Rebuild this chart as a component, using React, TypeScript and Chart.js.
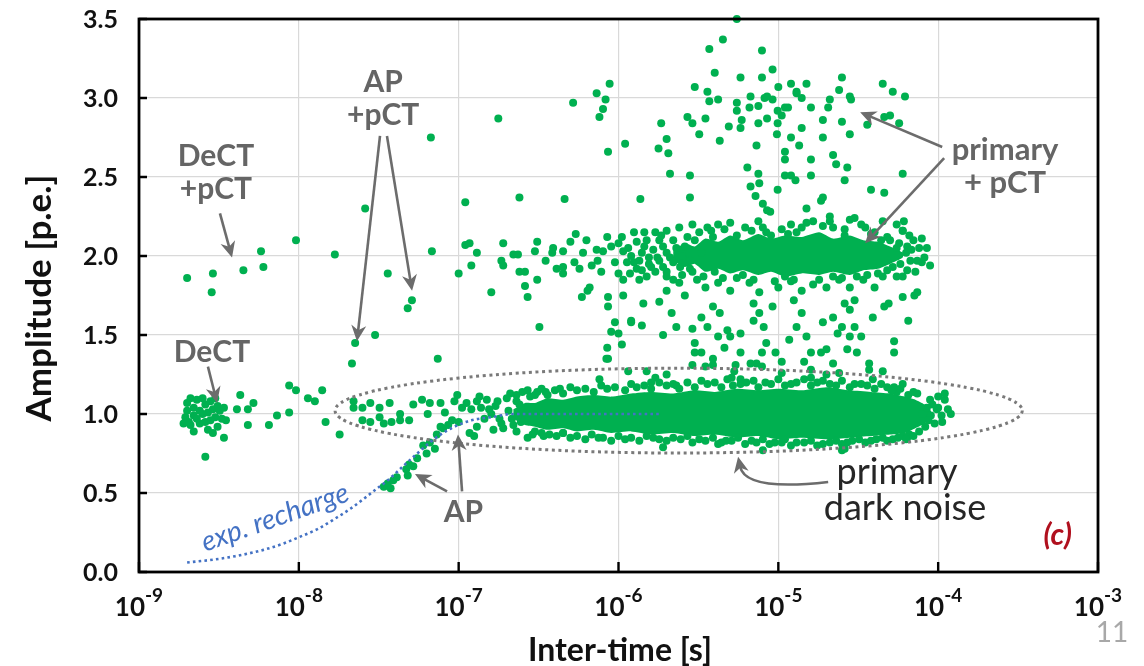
import React, { useEffect, useRef } from "react";
import { Chart, registerables } from "chart.js";

Chart.register(...registerables);

type P = [number, number];

// ---------- axes ----------
const X_TICKS = [1e-9, 1e-8, 1e-7, 1e-6, 1e-5, 1e-4, 1e-3];
const X_TICK_EXPONENTS = ["-9", "-8", "-7", "-6", "-5", "-4", "-3"];
const Y_TICKS = [0, 0.5, 1, 1.5, 2, 2.5, 3, 3.5];
const Y_TICK_LABELS = ["0.0", "0.5", "1.0", "1.5", "2.0", "2.5", "3.0", "3.5"];
const X_TITLE = "Inter-time [s]";
const Y_TITLE = "Amplitude [p.e.]";

// ---------- data (inter-time [s], amplitude [p.e.]) ----------
const dectCluster: P[] = [
  [2.0e-9, 1.07], [2.1e-9, 1.1], [2.2e-9, 1.04], [2.3e-9, 1.09], [2.5e-9, 1.1], [1.95e-9, 0.98],
  [2.05e-9, 0.95], [2.2e-9, 0.99], [2.4e-9, 1.02], [2.6e-9, 1.06], [2.8e-9, 1.08], [2.9e-9, 1.03],
  [3.1e-9, 1.05], [3.2e-9, 1.02], [3.0e-9, 0.98], [2.8e-9, 0.96], [2.6e-9, 0.95], [2.4e-9, 0.94],
  [2.1e-9, 0.93], [1.9e-9, 0.94], [2.2e-9, 0.89], [2.7e-9, 0.9], [2.9e-9, 0.88], [3.3e-9, 0.97],
  [3.5e-9, 0.96], [3.1e-9, 0.92], [2.5e-9, 1.0], [2.3e-9, 0.97], [2.0e-9, 1.02], [2.7e-9, 1.01],
  [3.4e-9, 1.04], [3.0e-9, 1.1], [2.6e-9, 0.73], [3.4e-9, 0.85],
];

const earlySingles: P[] = [
  [4.3e-9, 1.12], [4.1e-9, 1.03], [4.8e-9, 1.03], [5.2e-9, 1.07], [4.8e-9, 0.93], [6.5e-9, 0.93],
  [7.3e-9, 0.99], [8.7e-9, 1.01], [8.7e-9, 1.18], [9.6e-9, 1.15], [1.14e-8, 1.1], [1.26e-8, 1.08],
  [1.4e-8, 1.15], [1.47e-8, 0.95], [1.8e-8, 0.87], [2.2e-8, 1.04], [2.2e-8, 1.08], [2.5e-8, 1.04],
  [2.8e-8, 1.07], [3.2e-8, 1.04], [3.7e-8, 1.07], [2.5e-8, 0.96], [2.8e-8, 0.95], [3.2e-8, 0.98],
  [3.4e-8, 0.94], [3.8e-8, 0.95], [4.3e-8, 0.96], [4.3e-8, 1.0], [4.9e-8, 0.96], [5.2e-8, 1.06],
  [5.9e-8, 1.09], [6.6e-8, 1.07], [6.4e-8, 1.0], [7.7e-8, 1.07], [8.2e-8, 1.01], [9.8e-8, 1.12],
  [9.4e-8, 1.08], [9.1e-8, 0.96], [1.05e-7, 1.04], [1.0e-7, 0.95], [1.12e-7, 1.07], [1.2e-7, 1.03],
  [1.3e-7, 1.08], [1.38e-7, 1.04], [1.5e-7, 1.09], [1.17e-7, 0.88], [1.25e-7, 0.86], [1.65e-7, 0.9],
  [1.9e-7, 0.91], [2.7e-7, 0.85], [1.3e-7, 0.92], [2.1e-7, 1.13], [2.5e-7, 1.14], [3.1e-7, 1.14],
  [4.3e-7, 1.16], [4.5e-7, 0.88], [1.35e-7, 1.11], [1.7e-7, 1.05], [1.8e-7, 0.97], [2.0e-7, 1.1],
  [2.2e-7, 0.93], [2.4e-7, 1.06], [2.6e-7, 0.96], [2.8e-7, 1.11], [3.3e-7, 0.88], [3.6e-7, 1.12],
  [1.6e-7, 1.0], [1.75e-7, 1.08], [1.85e-7, 0.94], [2.05e-7, 1.02], [2.15e-7, 0.97], [2.3e-7, 1.08],
  [2.45e-7, 0.95], [1.55e-7, 1.03], [1.45e-7, 0.97],
];

const afterpulseBranch: P[] = [
  [3.4e-8, 0.54], [3.6e-8, 0.56], [3.75e-8, 0.53], [4.1e-8, 0.6], [4.7e-8, 0.65], [4.9e-8, 0.68],
  [5.2e-8, 0.67], [4.8e-8, 0.61], [6.0e-8, 0.8], [6.6e-8, 0.82], [7.1e-8, 0.78], [7.3e-8, 0.87],
  [8.0e-8, 0.91], [8.6e-8, 0.93], [7.7e-8, 0.92], [3.9e-8, 0.58], [5.5e-8, 0.72], [6.3e-8, 0.75],
];

const crossTalkLow: P[] = [
  [2.0e-9, 1.86], [2.9e-9, 1.89], [2.85e-9, 1.77], [4.5e-9, 1.91], [5.8e-9, 2.03], [6.0e-9, 1.93],
  [9.6e-9, 2.1], [1.68e-8, 2.01], [2.6e-8, 2.3], [3.6e-8, 1.89], [6.8e-8, 2.03], [1.0e-7, 1.89],
  [1.1e-7, 2.34], [1.1e-7, 2.07], [1.17e-7, 2.08], [1.3e-7, 2.02], [1.9e-7, 2.08], [1.2e-7, 1.94],
  [1.85e-7, 1.97], [1.9e-7, 1.94], [2.2e-7, 2.01], [2.35e-7, 2.01], [2.4e-7, 1.9], [3.1e-7, 2.09],
  [3.1e-7, 1.85], [2.15e-8, 1.32], [2.25e-8, 1.45], [3.0e-8, 1.5], [5.1e-8, 1.72], [4.8e-8, 1.67],
  [7.4e-8, 1.35], [1.6e-7, 1.77], [2.6e-7, 1.81], [2.7e-7, 1.74], [3.2e-7, 1.55],
];

const highAmplitude: P[] = [
  [6.7e-8, 2.75], [1.77e-7, 2.87], [2.4e-7, 2.37], [5.2e-7, 2.97], [7.3e-7, 3.03], [8.3e-7, 2.99],
  [8.8e-7, 3.09], [8.0e-7, 2.93], [7.6e-7, 2.88], [8.6e-7, 2.66], [1.1e-6, 2.71], [4.6e-7, 2.36],
  [1.37e-6, 2.36], [2.8e-6, 2.37], [2.8e-6, 2.51], [2.1e-6, 2.52], [1.78e-6, 2.68], [2.0e-6, 2.74],
  [2.05e-6, 2.65], [1.85e-6, 2.84], [2.7e-6, 2.88], [2.9e-6, 2.84], [3.2e-6, 2.77], [3.5e-6, 2.87],
  [3.0e-6, 3.07], [3.6e-6, 3.04], [3.7e-6, 2.98], [4.2e-6, 2.99], [4.0e-6, 3.16], [3.7e-6, 3.31],
  [4.5e-6, 3.37], [5.5e-6, 3.5], [7.9e-6, 3.3], [5.8e-6, 3.13], [7.9e-6, 3.13], [9.2e-6, 3.18],
  [1.0e-5, 3.07], [6.7e-6, 3.01], [5.5e-6, 2.97], [5.5e-6, 2.92], [6.6e-6, 2.94], [7.5e-6, 2.95],
  [8.5e-6, 3.01], [9.2e-6, 2.99], [9.9e-6, 2.92], [1.1e-5, 2.94], [1.2e-5, 3.09], [1.3e-5, 3.03],
  [4.9e-6, 2.82], [5.9e-6, 2.86], [5.8e-6, 2.81], [7.5e-6, 2.84], [8.5e-6, 2.87], [9.9e-6, 2.84],
  [9.8e-6, 2.77], [4.3e-6, 2.73], [7.3e-6, 2.7], [1.1e-5, 2.66], [1.1e-5, 2.61], [1.2e-5, 2.75],
  [6.4e-6, 2.56], [7.5e-6, 2.52], [7.6e-6, 2.46], [6.7e-6, 2.44], [9.9e-6, 2.42], [1.1e-5, 2.51],
  [1.28e-5, 2.48], [7.2e-6, 2.38], [8.0e-6, 2.33], [8.5e-6, 2.29], [8.9e-6, 2.28], [1.3e-5, 3.04],
  [1.5e-5, 3.09], [2.5e-5, 3.13], [2.4e-5, 3.05], [2.8e-5, 3.01], [2.85e-5, 2.99], [4.5e-5, 3.09],
  [5.2e-5, 3.04], [6.2e-5, 3.01], [2.1e-5, 2.99], [2.05e-5, 2.94], [1.6e-5, 2.94], [1.4e-5, 3.0],
  [1.15e-5, 2.94], [1.05e-5, 2.89], [8.2e-6, 3.0], [1.4e-5, 2.81], [1.9e-5, 2.86], [2.5e-5, 2.85],
  [3.6e-5, 2.83], [4.6e-5, 2.88], [5.0e-5, 2.89], [5.7e-5, 2.84], [1.35e-5, 2.7], [1.9e-5, 2.75],
  [2.8e-5, 2.77], [1.6e-5, 2.61], [2.2e-5, 2.64], [2.3e-5, 2.58], [2.7e-5, 2.56], [1.2e-5, 2.51],
  [1.6e-5, 2.51], [2.6e-5, 2.48], [6.0e-5, 2.52], [3.8e-5, 2.42], [4.6e-5, 2.4], [1.9e-5, 2.37],
  [1.85e-5, 2.35], [1.5e-5, 2.3], [2.1e-5, 2.25], [2.8e-5, 2.23], [6.1e-5, 2.22],
];

const doubleBand: P[] = [
  [2.4e-6, 2.18], [3.6e-6, 2.18], [5.0e-6, 2.21], [6.8e-6, 2.16], [8.4e-6, 2.15], [1.15e-5, 2.14],
  [1.5e-5, 2.21], [1.65e-5, 2.22], [2.2e-5, 2.18], [3.0e-5, 2.24], [3.5e-5, 2.18], [4.0e-5, 2.15],
  [4.8e-5, 2.12], [6.0e-5, 2.16], [6.4e-5, 2.06], [7.0e-5, 2.1], [7.4e-5, 1.97], [6.4e-5, 1.91],
  [5.5e-5, 1.87], [7.9e-5, 2.11], [8.5e-5, 2.05], [8.9e-5, 1.94], [7.9e-5, 1.96], [6.7e-5, 1.97],
  [6.0e-5, 1.87], [7.1e-5, 1.75], [6.0e-5, 2.16],
  [2.0e-6, 1.87], [2.4e-6, 1.83], [3.1e-6, 1.85], [3.5e-6, 1.8], [4.2e-6, 1.83], [5.0e-6, 1.78],
  [6.6e-6, 1.83], [7.6e-6, 1.77], [1.0e-5, 1.8], [1.2e-5, 1.84], [1.4e-5, 1.78], [1.65e-5, 1.82],
  [2.0e-5, 1.8], [2.4e-5, 1.85], [2.8e-5, 1.8], [3.4e-5, 1.85], [4.0e-5, 1.8], [4.5e-5, 1.87],
  [5.0e-7, 2.09], [6.3e-7, 2.1], [3.9e-7, 2.05], [3.85e-7, 2.02], [4.5e-7, 2.03], [4.5e-7, 1.93],
  [4.1e-7, 1.92], [4.5e-7, 1.89], [2.6e-7, 1.9], [5.3e-7, 1.96], [5.7e-7, 1.92], [6.8e-7, 1.94],
  [7.3e-7, 2.04], [8.0e-7, 2.03], [7.4e-7, 1.97], [9.0e-7, 2.06], [1.0e-6, 2.08], [1.07e-6, 2.03],
  [1.25e-6, 2.15], [1.45e-6, 2.15], [1.7e-6, 2.15], [2.0e-6, 2.16], [1.13e-6, 1.96], [1.25e-6, 1.96],
  [1.0e-6, 1.89], [1.18e-6, 1.89], [1.4e-6, 1.91], [1.5e-6, 1.87], [1.6e-6, 1.93], [1.07e-6, 1.85],
  [1.35e-6, 1.85], [1.9e-6, 2.06], [2.1e-6, 1.99], [2.43e-6, 1.93], [2.6e-6, 2.06], [2.8e-6, 1.97],
  [3.0e-6, 2.1], [1.9e-6, 1.93], [1.75e-6, 1.99], [1.55e-6, 1.99], [1.45e-6, 2.06], [1.35e-6, 1.97],
  [1.8e-6, 2.1], [3.3e-6, 2.02], [3.9e-6, 2.12], [5.5e-6, 2.13], [9.0e-6, 2.13], [1.3e-5, 2.15],
  [2.6e-5, 2.13], [4.4e-5, 2.1], [5.5e-5, 2.05], [5.8e-5, 1.95], [4.8e-5, 1.91], [3.6e-5, 1.88],
  [2.2e-5, 1.87], [1.1e-5, 1.87], [6.0e-6, 1.88], [4.0e-6, 1.9], [2.8e-6, 1.92],
  [1.05e-6, 2.12], [1.15e-6, 2.05], [1.2e-6, 2.0], [1.3e-6, 2.09], [1.3e-6, 1.92], [1.4e-6, 2.02],
  [1.5e-6, 2.1], [1.55e-6, 1.95], [1.65e-6, 2.04], [1.7e-6, 1.9], [1.8e-6, 1.97], [1.85e-6, 2.13],
  [2.0e-6, 2.02], [2.0e-6, 1.9], [2.2e-6, 2.1], [2.2e-6, 1.96], [2.3e-6, 2.05], [2.5e-6, 2.0],
  [2.5e-6, 1.88], [2.7e-6, 2.12], [2.9e-6, 1.9], [3.2e-6, 2.15], [3.4e-6, 1.87], [3.8e-6, 2.16],
  [4.5e-6, 1.86], [4.6e-6, 2.17], [5.5e-6, 1.86], [6.2e-6, 2.18], [7.0e-6, 1.85], [8.0e-6, 2.18],
  [9.5e-6, 1.84], [1.05e-5, 2.17], [1.25e-5, 1.85], [1.4e-5, 2.18], [1.8e-5, 1.85], [1.9e-5, 2.19],
  [2.5e-5, 1.86], [2.6e-5, 2.17], [3.1e-5, 1.87], [3.8e-5, 2.14], [4.2e-5, 1.89], [5.0e-5, 2.1],
  [5.2e-5, 1.93], [5.7e-5, 2.08], [6.3e-5, 2.02], [6.8e-5, 2.04], [7.6e-5, 2.05], [8.2e-5, 1.99],
  [7.2e-5, 1.9], [6.6e-5, 2.13], [5.5e-5, 2.2], [4.5e-5, 2.22], [3.3e-5, 2.2], [2.1e-5, 2.22],
  [1.2e-5, 2.2], [7.5e-6, 2.22], [4.2e-6, 2.2], [2.9e-6, 2.2], [8.5e-7, 2.12], [9.5e-7, 1.96],
  [7.8e-7, 1.9], [6.0e-7, 2.02], [5.4e-7, 2.14], [3.5e-7, 1.97], [3.0e-7, 2.03],
];

const betweenBands: P[] = [
  [6.6e-7, 1.8], [6.4e-7, 1.78], [5.9e-7, 1.74], [8.6e-7, 1.74], [8.6e-7, 1.68], [1.07e-6, 1.75],
  [1.43e-6, 1.7], [1.2e-6, 1.58], [1.4e-6, 1.56], [1.0e-6, 1.51], [9.5e-7, 1.58], [8.5e-7, 1.42],
  [8.6e-7, 1.35], [1.8e-6, 1.71], [2.0e-6, 1.78], [2.2e-6, 1.85], [2.15e-6, 1.64], [2.6e-6, 1.75],
  [1.9e-6, 1.5], [2.3e-6, 1.55], [2.9e-6, 1.54], [3.3e-6, 1.61], [3.6e-6, 1.55], [3.9e-6, 1.68],
  [4.3e-6, 1.64], [4.2e-6, 1.49], [4.8e-6, 1.53], [5.0e-6, 1.49], [5.8e-6, 1.51], [4.6e-6, 1.42],
  [5.8e-6, 1.39], [3.0e-6, 1.45], [3.0e-6, 1.39], [3.5e-6, 1.3], [3.3e-6, 1.39], [3.9e-6, 1.35],
  [5.1e-6, 1.23], [7.0e-6, 1.59], [8.1e-6, 1.55], [7.6e-6, 1.64], [7.0e-6, 1.7], [9.2e-6, 1.68],
  [8.4e-6, 1.45], [9.6e-6, 1.39], [1.05e-5, 1.33], [7.9e-6, 1.39], [1.17e-5, 1.47], [1.3e-5, 1.55],
  [1.4e-5, 1.64], [1.25e-5, 1.72], [1.5e-5, 1.49], [1.6e-5, 1.39], [1.45e-5, 1.33], [1.85e-5, 1.39],
  [2.0e-5, 1.41], [2.2e-5, 1.32], [1.9e-5, 1.58], [2.2e-5, 1.61], [2.35e-5, 1.51], [2.5e-5, 1.55],
  [2.8e-5, 1.49], [3.0e-5, 1.55], [3.3e-5, 1.49], [2.7e-5, 1.41], [3.1e-5, 1.39], [3.7e-5, 1.32],
  [3.9e-5, 1.61], [4.6e-5, 1.68], [4.9e-5, 1.7], [3.0e-5, 1.72], [6.0e-5, 1.74], [7.4e-5, 1.77],
  [5.3e-5, 1.39], [2.8e-5, 1.66], [2.6e-5, 1.7], [2.4e-5, 1.26], [1.6e-5, 1.23], [1.05e-5, 1.26],
  [7.3e-6, 1.32], [4.5e-5, 1.27], [5.3e-5, 1.46], [6.5e-5, 1.59], [7.6e-7, 1.22], [8.4e-7, 1.35],
  [1.05e-6, 1.44], [9.0e-7, 1.52], [1.2e-6, 1.59], [1.5e-6, 1.27], [1.7e-6, 1.23], [1.6e-6, 1.2],
  [2.9e-6, 1.31], [3.9e-6, 1.31], [5.3e-6, 1.27], [2.3e-6, 1.18], [6.7e-6, 1.32], [1.15e-6, 1.27],
  [2.0e-6, 1.25], [5.4e-6, 1.31], [7.9e-6, 1.3], [1.6e-5, 1.28], [5.8e-6, 1.22],
];

const singleBandEdges: P[] = [
  [3.0e-7, 1.12], [3.5e-7, 1.14], [4.5e-7, 1.13], [5.5e-7, 1.15], [7.0e-7, 1.14], [8.5e-7, 1.16],
  [1.1e-6, 1.15], [1.3e-6, 1.17], [1.6e-6, 1.16], [2.0e-6, 1.18], [2.4e-6, 1.16], [3.0e-6, 1.17],
  [3.6e-6, 1.19], [4.4e-6, 1.17], [5.2e-6, 1.18], [6.3e-6, 1.2], [7.5e-6, 1.17], [9.0e-6, 1.19],
  [1.1e-5, 1.18], [1.3e-5, 1.2], [1.6e-5, 1.18], [1.9e-5, 1.21], [2.3e-5, 1.18], [2.8e-5, 1.17],
  [3.3e-5, 1.19], [4.0e-5, 1.16], [4.8e-5, 1.17], [5.5e-5, 1.14], [6.5e-5, 1.12], [7.0e-5, 1.14],
  [3.0e-7, 0.89], [3.7e-7, 0.87], [4.5e-7, 0.88], [5.5e-7, 0.86], [6.8e-7, 0.87], [8.0e-7, 0.85],
  [1.0e-6, 0.86], [1.2e-6, 0.85], [1.5e-6, 0.86], [1.8e-6, 0.84], [2.2e-6, 0.85], [2.7e-6, 0.86],
  [3.2e-6, 0.84], [3.9e-6, 0.85], [4.7e-6, 0.83], [5.6e-6, 0.85], [6.8e-6, 0.83], [8.0e-6, 0.84],
  [9.5e-6, 0.82], [1.1e-5, 0.84], [1.3e-5, 0.82], [1.6e-5, 0.83], [1.9e-5, 0.81], [2.3e-5, 0.83],
  [2.7e-5, 0.82], [3.2e-5, 0.84], [3.8e-5, 0.83], [4.5e-5, 0.85], [5.2e-5, 0.84], [6.0e-5, 0.86],
  [6.6e-5, 0.87], [1.9e-6, 0.79], [4.4e-6, 0.82], [8.0e-6, 0.77], [2.5e-5, 0.77], [2.6e-5, 0.78],
  [8.9e-5, 1.09], [1.0e-4, 1.11], [1.1e-4, 1.09], [1.2e-4, 1.0], [1.06e-4, 0.95], [9.5e-5, 0.94],
  [8.3e-5, 0.92], [7.6e-5, 0.89], [6.4e-5, 0.85], [9.8e-5, 1.03], [1.1e-4, 1.13], [1.0e-4, 1.04],
  [7.4e-5, 1.13], [6.0e-5, 1.19], [5.3e-5, 1.17], [3.7e-5, 1.28], [2.0e-5, 1.25], [3.9e-5, 1.22],
  [8.0e-5, 1.0], [8.5e-5, 1.04], [9.0e-5, 0.99], [1.15e-4, 1.03], [9.2e-5, 1.06], [1.05e-4, 0.99],
  [8.7e-5, 0.96],
  [2.3e-7, 1.12], [2.7e-7, 1.15], [3.3e-7, 1.16], [4.0e-7, 1.15], [5.0e-7, 1.17], [6.2e-7, 1.16],
  [7.8e-7, 1.18], [9.5e-7, 1.17], [1.2e-6, 1.19], [1.45e-6, 1.18], [1.8e-6, 1.2], [2.2e-6, 1.19],
  [2.7e-6, 1.2], [3.3e-6, 1.21], [4.0e-6, 1.2], [4.8e-6, 1.22], [5.8e-6, 1.19], [7.0e-6, 1.21],
  [8.3e-6, 1.2], [1.0e-5, 1.22], [1.2e-5, 1.19], [1.45e-5, 1.22], [1.75e-5, 1.2], [2.1e-5, 1.19],
  [2.5e-5, 1.21], [3.0e-5, 1.19], [3.6e-5, 1.18], [4.4e-5, 1.19], [5.1e-5, 1.15], [5.8e-5, 1.16],
  [2.3e-7, 0.89], [2.9e-7, 0.87], [3.4e-7, 0.86], [4.1e-7, 0.86], [5.0e-7, 0.85], [6.2e-7, 0.84],
  [7.5e-7, 0.85], [9.0e-7, 0.83], [1.1e-6, 0.84], [1.35e-6, 0.83], [1.65e-6, 0.85], [2.0e-6, 0.83],
  [2.45e-6, 0.84], [2.9e-6, 0.82], [3.5e-6, 0.83], [4.2e-6, 0.81], [5.1e-6, 0.83], [6.2e-6, 0.81],
  [7.3e-6, 0.82], [8.8e-6, 0.81], [1.05e-5, 0.82], [1.2e-5, 0.8], [1.45e-5, 0.82], [1.75e-5, 0.8],
  [2.1e-5, 0.82], [2.5e-5, 0.81], [2.9e-5, 0.83], [3.5e-5, 0.82], [4.1e-5, 0.84], [4.8e-5, 0.83],
  [5.6e-5, 0.85], [6.3e-5, 0.84], [7.0e-5, 0.86],
];

// dense cores (outline of the saturated regions)
const core1X = [2.2e-7, 2.6e-7, 3.0e-7, 3.6e-7, 4.5e-7, 5.5e-7, 7e-7, 9e-7, 1.2e-6, 1.6e-6, 2.2e-6, 3e-6, 4e-6, 5.5e-6, 7.5e-6, 1e-5, 1.4e-5, 2e-5, 2.8e-5, 3.8e-5, 5e-5, 6.2e-5, 7.2e-5, 8.2e-5, 9e-5];
const core1Top = [1.03, 1.07, 1.07, 1.1, 1.09, 1.11, 1.12, 1.11, 1.13, 1.14, 1.13, 1.15, 1.14, 1.16, 1.15, 1.16, 1.15, 1.17, 1.15, 1.14, 1.13, 1.11, 1.09, 1.06, 1.02];
const core1Bottom = [0.97, 0.93, 0.92, 0.9, 0.91, 0.89, 0.9, 0.88, 0.89, 0.87, 0.88, 0.86, 0.87, 0.85, 0.86, 0.84, 0.85, 0.84, 0.85, 0.86, 0.87, 0.88, 0.91, 0.94, 0.98];
const core2X = [2.2e-6, 2.6e-6, 3.0e-6, 3.5e-6, 4.2e-6, 5e-6, 6e-6, 7.5e-6, 9e-6, 1.1e-5, 1.4e-5, 1.8e-5, 2.2e-5, 2.8e-5, 3.4e-5, 4.2e-5, 5e-5, 6e-5];
const core2Top = [2.03, 2.08, 2.06, 2.11, 2.09, 2.13, 2.1, 2.14, 2.11, 2.13, 2.12, 2.15, 2.11, 2.13, 2.1, 2.09, 2.06, 2.02];
const core2Bottom = [1.97, 1.93, 1.95, 1.9, 1.92, 1.89, 1.91, 1.88, 1.9, 1.87, 1.89, 1.88, 1.9, 1.88, 1.91, 1.92, 1.95, 1.99];

// exponential recharge curve
const rechargeCurve: P[] = [
  [2.0e-9, 0.06], [3e-9, 0.08], [4e-9, 0.1], [6e-9, 0.14], [8e-9, 0.18], [1.0e-8, 0.22],
  [1.3e-8, 0.27], [1.7e-8, 0.34], [2.1e-8, 0.4], [2.6e-8, 0.47], [3.1e-8, 0.53], [3.6e-8, 0.58],
  [4.5e-8, 0.67], [5.5e-8, 0.75], [7e-8, 0.84], [9e-8, 0.91], [1.2e-7, 0.96], [1.6e-7, 0.98],
  [2.2e-7, 1.0], [1.8e-6, 1.0],
];

// ---------- styles / annotations ----------
const GREEN = "#00B050";
const BLUE = "#4472C4";
const ANN_GRAY = "#656565";
const FONT = "Lato, 'Open Sans', sans-serif";

const ARROWS: { from: P; to: P }[] = [
  { from: [3.21e-9, 2.27], to: [3.82e-9, 1.99] },
  { from: [3.22e-8, 2.76], to: [2.31e-8, 1.46] },
  { from: [3.56e-8, 2.76], to: [5.11e-8, 1.78] },
  { from: [2.7e-9, 1.3], to: [3.08e-9, 1.07] },
  { from: [1.05e-7, 0.51], to: [9.9e-8, 0.87] },
  { from: [8.46e-8, 0.51], to: [5.33e-8, 0.62] },
  { from: [1.06e-4, 2.69], to: [3.25e-5, 2.91] },
  { from: [1.09e-4, 2.62], to: [3.49e-5, 2.08] },
];
const CURVED_ARROW = { from: [2.05e-5, 0.57] as P, ctrl: [6.2e-6, 0.51] as P, to: [5.6e-6, 0.73] as P };

const LABELS: { text: string; at: P; font: string; color: string }[] = [
  { text: "DeCT", at: [3.03e-9, 2.63], font: `bold 30px ${FONT}`, color: ANN_GRAY },
  { text: "+pCT", at: [3.03e-9, 2.42], font: `bold 30px ${FONT}`, color: ANN_GRAY },
  { text: "AP", at: [3.37e-8, 3.1], font: `bold 30px ${FONT}`, color: ANN_GRAY },
  { text: "+pCT", at: [3.37e-8, 2.89], font: `bold 30px ${FONT}`, color: ANN_GRAY },
  { text: "DeCT", at: [2.86e-9, 1.39], font: `bold 30px ${FONT}`, color: ANN_GRAY },
  { text: "AP", at: [1.07e-7, 0.38], font: `bold 30px ${FONT}`, color: ANN_GRAY },
  { text: "primary", at: [2.62e-4, 2.67], font: `bold 31px ${FONT}`, color: ANN_GRAY },
  { text: "+ pCT", at: [2.62e-4, 2.46], font: `bold 31px ${FONT}`, color: ANN_GRAY },
  { text: "primary", at: [5.53e-5, 0.63], font: `36px ${FONT}`, color: "#262626" },
  { text: "dark noise", at: [6.2e-5, 0.405], font: `36px ${FONT}`, color: "#262626" },
  { text: "(c)", at: [5.6e-4, 0.234], font: `italic bold 30px ${FONT}`, color: "#B0101E" },
];
const RECHARGE_LABEL = { text: "exp. recharge", at: [7.1e-9, 0.345] as P, angle: -19.5 };
const ELLIPSE = { xLeft: 1.685e-8, xRight: 3.36e-4, yTop: 1.29, yBottom: 0.753 };

const toPts = (arr: P[]) => arr.map(([x, y]) => ({ x, y }));
const polygon = (xs: number[], top: number[], bottom: number[]) =>
  xs.map((x, i) => ({ x, y: top[i] })).concat(
    xs.map((x, i) => ({ x, y: bottom[i] })).reverse()
  );

function drawArrowHead(ctx: CanvasRenderingContext2D, x: number, y: number, ang: number, len: number, half: number) {
  const bx = x - len * Math.cos(ang);
  const by = y - len * Math.sin(ang);
  ctx.beginPath();
  ctx.moveTo(x, y);
  ctx.lineTo(bx + half * Math.sin(ang), by - half * Math.cos(ang));
  ctx.lineTo(x - len * 0.7 * Math.cos(ang), y - len * 0.7 * Math.sin(ang));
  ctx.lineTo(bx - half * Math.sin(ang), by + half * Math.cos(ang));
  ctx.closePath();
  ctx.fill();
}

const decorPlugin = {
  id: "decor",
  afterDatasetsDraw(chart: any) {
    const { ctx, scales } = chart;
    const xs = scales.x;
    const ys = scales.y;
    const px = (v: number) => xs.getPixelForValue(v);
    const py = (v: number) => ys.getPixelForValue(v);
    ctx.save();

    // dotted ellipse
    const l = px(ELLIPSE.xLeft), r = px(ELLIPSE.xRight);
    const t = py(ELLIPSE.yTop), b = py(ELLIPSE.yBottom);
    ctx.setLineDash([3, 3.6]);
    ctx.lineWidth = 3;
    ctx.strokeStyle = "#7a7a7a";
    ctx.beginPath();
    ctx.ellipse((l + r) / 2, (t + b) / 2, (r - l) / 2, (b - t) / 2, 0, 0, Math.PI * 2);
    ctx.stroke();
    ctx.setLineDash([]);

    // arrows
    ctx.strokeStyle = "#6c6c6c";
    ctx.fillStyle = "#6c6c6c";
    ctx.lineWidth = 2.6;
    for (const a of ARROWS) {
      const x1 = px(a.from[0]), y1 = py(a.from[1]);
      const x2 = px(a.to[0]), y2 = py(a.to[1]);
      const ang = Math.atan2(y2 - y1, x2 - x1);
      ctx.beginPath();
      ctx.moveTo(x1, y1);
      ctx.lineTo(x2 - 10 * Math.cos(ang), y2 - 10 * Math.sin(ang));
      ctx.stroke();
      drawArrowHead(ctx, x2, y2, ang, 16, 7.5);
    }
    {
      const c = CURVED_ARROW;
      const x1 = px(c.from[0]), y1 = py(c.from[1]);
      const cx = px(c.ctrl[0]), cy = py(c.ctrl[1]);
      const x2 = px(c.to[0]), y2 = py(c.to[1]);
      const ang = Math.atan2(y2 - cy, x2 - cx);
      ctx.beginPath();
      ctx.moveTo(x1, y1);
      ctx.quadraticCurveTo(cx, cy, x2 - 10 * Math.cos(ang), y2 - 10 * Math.sin(ang));
      ctx.stroke();
      drawArrowHead(ctx, x2, y2, ang, 16, 7.5);
    }

    // labels
    ctx.textAlign = "center";
    ctx.textBaseline = "middle";
    for (const lb of LABELS) {
      ctx.font = lb.font;
      ctx.fillStyle = lb.color;
      ctx.fillText(lb.text, px(lb.at[0]), py(lb.at[1]));
    }
    ctx.save();
    ctx.translate(px(RECHARGE_LABEL.at[0]), py(RECHARGE_LABEL.at[1]));
    ctx.rotate((RECHARGE_LABEL.angle * Math.PI) / 180);
    ctx.font = `italic 28px ${FONT}`;
    ctx.fillStyle = BLUE;
    ctx.fillText(RECHARGE_LABEL.text, 0, 0);
    ctx.restore();

    ctx.restore();
  },
  afterDraw(chart: any) {
    const { ctx, chartArea: ca, scales } = chart;
    const xs = scales.x;
    const ys = scales.y;
    ctx.save();
    // frame
    ctx.strokeStyle = "#000";
    ctx.lineWidth = 2.8;
    ctx.strokeRect(ca.left, ca.top, ca.right - ca.left, ca.bottom - ca.top);
    // inward tick marks
    ctx.lineWidth = 2.4;
    ctx.beginPath();
    X_TICKS.forEach((v) => {
      const x = xs.getPixelForValue(v);
      ctx.moveTo(x, ca.bottom);
      ctx.lineTo(x, ca.bottom - 10);
    });
    Y_TICKS.forEach((v) => {
      const y = ys.getPixelForValue(v);
      ctx.moveTo(ca.left, y);
      ctx.lineTo(ca.left + 8, y);
    });
    ctx.stroke();

    // y tick labels
    ctx.fillStyle = "#111";
    ctx.textAlign = "right";
    ctx.textBaseline = "middle";
    ctx.font = `bold 25px ${FONT}`;
    Y_TICKS.forEach((v, i) => {
      ctx.fillText(Y_TICK_LABELS[i], ca.left - 21, ys.getPixelForValue(v) + 1);
    });

    // x tick labels with superscript exponent
    ctx.textBaseline = "alphabetic";
    ctx.textAlign = "left";
    const baseFont = `bold 26px ${FONT}`;
    const supFont = `bold 19px ${FONT}`;
    X_TICKS.forEach((v, i) => {
      const x = xs.getPixelForValue(v);
      ctx.font = baseFont;
      const wBase = ctx.measureText("10").width;
      ctx.font = supFont;
      const wSup = ctx.measureText(X_TICK_EXPONENTS[i]).width;
      const start = x - (wBase + wSup) / 2;
      ctx.font = baseFont;
      ctx.fillText("10", start, 616);
      ctx.font = supFont;
      ctx.fillText(X_TICK_EXPONENTS[i], start + wBase, 602);
    });

    // axis titles
    ctx.fillStyle = "#111";
    ctx.textAlign = "center";
    ctx.textBaseline = "middle";
    ctx.font = `bold 32px ${FONT}`;
    ctx.fillText(X_TITLE, 620, 651);
    ctx.save();
    ctx.translate(40, 298);
    ctx.rotate(-Math.PI / 2);
    ctx.font = `bold 35px ${FONT}`;
    ctx.fillText(Y_TITLE, 0, 0);
    ctx.restore();

    // page number
    ctx.font = `28px ${FONT}`;
    ctx.fillStyle = "#a8a8a8";
    ctx.fillText("11", 1112, 633);
    ctx.restore();
  },
};

export default function App() {
  const canvasRef = useRef<HTMLCanvasElement | null>(null);

  useEffect(() => {
    let chart: Chart | null = null;
    let cancelled = false;
    const fonts = [`bold 26px Lato`, `26px Lato`, `italic 26px Lato`, `italic bold 26px Lato`];
    Promise.all(fonts.map((f) => (document as any).fonts.load(f)))
      .catch(() => null)
      .then(() => {
        if (cancelled || !canvasRef.current) return;
        const eventPoints = [
          ...dectCluster, ...earlySingles, ...afterpulseBranch, ...crossTalkLow,
          ...highAmplitude, ...doubleBand, ...betweenBands, ...singleBandEdges,
        ];
        chart = new Chart(canvasRef.current, {
          type: "scatter",
          data: {
            datasets: [
              {
                type: "line",
                label: "exp. recharge",
                data: toPts(rechargeCurve),
                borderColor: BLUE,
                borderWidth: 2.6,
                borderDash: [2.6, 3.2],
                pointRadius: 0,
                fill: false,
                cubicInterpolationMode: "monotone",
                order: 0,
              } as any,
              {
                label: "events",
                data: toPts(eventPoints),
                pointRadius: 4,
                pointBackgroundColor: GREEN,
                pointBorderWidth: 0,
                borderColor: GREEN,
                backgroundColor: GREEN,
                clip: 6,
                order: 1,
              } as any,
              {
                type: "line",
                label: "core 1 p.e.",
                data: polygon(core1X, core1Top, core1Bottom),
                borderWidth: 0,
                borderColor: "rgba(0,0,0,0)",
                backgroundColor: GREEN,
                pointRadius: 0,
                fill: "shape",
                tension: 0.2,
                order: 2,
              } as any,
              {
                type: "line",
                label: "core 2 p.e.",
                data: polygon(core2X, core2Top, core2Bottom),
                borderWidth: 0,
                borderColor: "rgba(0,0,0,0)",
                backgroundColor: GREEN,
                pointRadius: 0,
                fill: "shape",
                tension: 0.2,
                order: 2,
              } as any,
            ],
          },
          options: {
            responsive: false,
            animation: false,
            events: [],
            layout: { padding: { top: 19, right: 46, left: 0, bottom: 0 }, autoPadding: false },
            plugins: { legend: { display: false }, tooltip: { enabled: false } },
            scales: {
              x: {
                type: "logarithmic",
                min: 1e-9,
                max: 1e-3,
                afterBuildTicks: (s: any) => {
                  s.ticks = X_TICKS.map((v) => ({ value: v, major: true }));
                },
                afterFit: (s: any) => {
                  s.height = 94;
                },
                ticks: { display: false },
                grid: { color: "#d9d9d9", lineWidth: 1.2, drawTicks: false },
                border: { display: false },
              },
              y: {
                min: 0,
                max: 3.5,
                afterBuildTicks: (s: any) => {
                  s.ticks = Y_TICKS.map((v) => ({ value: v }));
                },
                afterFit: (s: any) => {
                  s.width = 139;
                },
                ticks: { display: false },
                grid: { color: "#d9d9d9", lineWidth: 1.2, drawTicks: false },
                border: { display: false },
              },
            },
          },
          plugins: [decorPlugin],
        } as any);
      });
    return () => {
      cancelled = true;
      if (chart) chart.destroy();
    };
  }, []);

  return (
    <div style={{ position: "absolute", left: 0, top: 0, width: 1144, height: 666, background: "#fff" }}>
      <canvas ref={canvasRef} width={1144} height={666} style={{ width: 1144, height: 666 }} />
    </div>
  );
}
